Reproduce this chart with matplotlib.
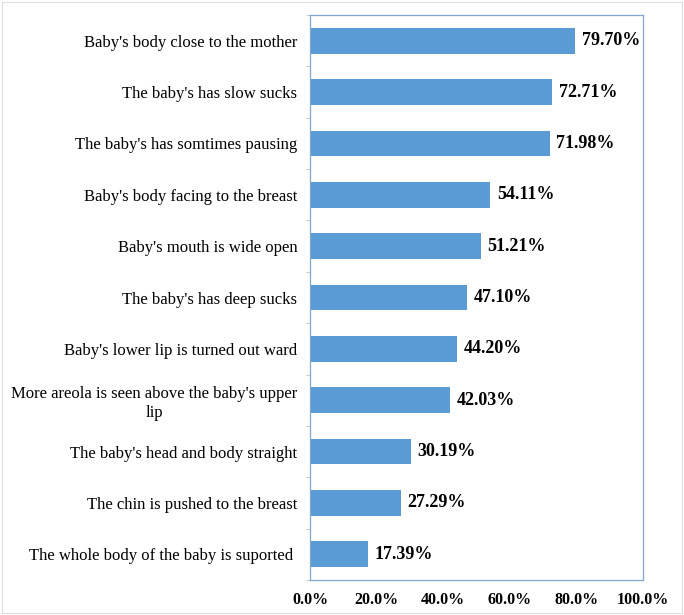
import matplotlib
matplotlib.use("Agg")
import matplotlib.pyplot as plt
from matplotlib.patches import Rectangle
import numpy as np

categories = [
    "Baby's body close to the mother",
    "The baby's has slow sucks",
    "The baby's has somtimes pausing",
    "Baby's body facing to the breast",
    "Baby's mouth is wide open",
    "The baby's has deep sucks",
    "Baby's lower lip is turned out ward",
    "More areola is seen above the baby's upper\nlip",
    "The baby's head and body straight",
    "The chin is pushed to the breast",
    "The whole body of the baby is suported ",
]
values = [79.70, 72.71, 71.98, 54.11, 51.21, 47.10, 44.20, 42.03, 30.19, 27.29, 17.39]
xticks = [0, 20, 40, 60, 80, 100]
xtick_labels = ["0.0%", "20.0%", "40.0%", "60.0%", "80.0%", "100.0%"]

plt.rcParams['font.family'] = ['Liberation Serif', 'DejaVu Serif']

fig = plt.figure(figsize=(6.84, 6.15), dpi=100)
ax = fig.add_axes([310/684, 35/615, 333/684, 565/615])

n = len(categories)
y = np.arange(n)[::-1]
ax.barh(y, values, height=0.5, color="#5B9BD5", zorder=2)
for yi, v in zip(y, values):
    ax.text(v + 2.0, yi, f"{v:.2f}%", va="center", ha="left",
            fontsize=13, fontweight="bold")

ax.set_xlim(0, 100)
ax.set_ylim(-0.5, n - 0.5)
ax.set_yticks(y)
ax.set_yticklabels(categories, fontsize=12, ha="right", multialignment="center")
ax.set_yticks(np.arange(-0.5, n, 1), minor=True)
ax.tick_params(axis="y", which="major", length=0, pad=9)
ax.tick_params(axis="y", which="minor", length=3, color="#BFBFBF", direction="out")
ax.set_xticks(xticks)
ax.set_xticklabels(xtick_labels, fontsize=11.5, fontweight="bold")
ax.tick_params(axis="x", length=0, pad=9)
for s in ax.spines.values():
    s.set_color("#7FA7CF")
    s.set_linewidth(0.9)

fig.patches.append(Rectangle((0.003, 0.003), 0.994, 0.994, transform=fig.transFigure,
                             fill=False, edgecolor="#DDDDDD", linewidth=0.8))

fig.savefig("out.png", dpi=100)
